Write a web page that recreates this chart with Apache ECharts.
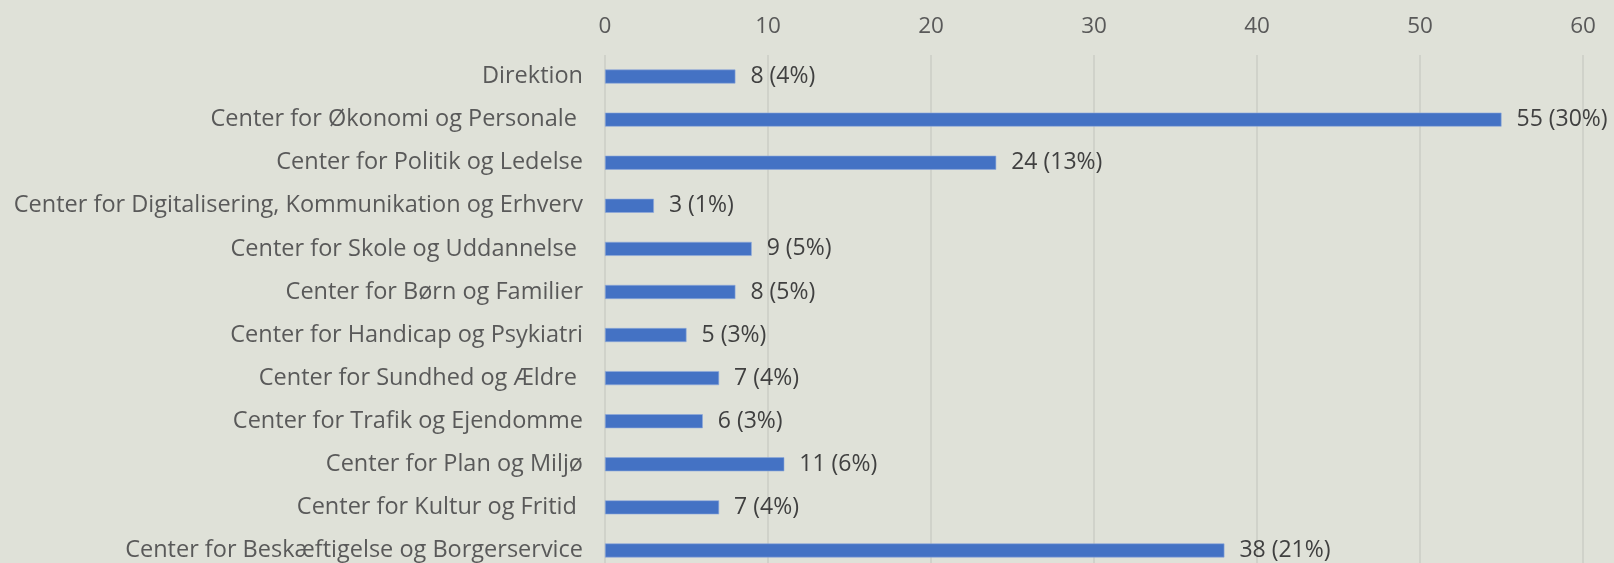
<!DOCTYPE html>
<html>
<head>
<meta charset="utf-8">
<script src="https://cdn.jsdelivr.net/npm/echarts@6/dist/echarts.min.js"></script>
<style>
  html, body { margin: 0; padding: 0; background: #dfe1d8; overflow: hidden; }
  /* the last row runs slightly past the bottom edge of the window */
  #chart { width: 1614px; height: 575px; }
</style>
</head>
<body>
<div id="chart"></div>
<script>
// Departments, top to bottom
const categories = [
  'Direktion',
  'Center for Økonomi og Personale ',
  'Center for Politik og Ledelse',
  'Center for Digitalisering, Kommunikation og Erhverv',
  'Center for Skole og Uddannelse ',
  'Center for Børn og Familier',
  'Center for Handicap og Psykiatri',
  'Center for Sundhed og Ældre ',
  'Center for Trafik og Ejendomme',
  'Center for Plan og Miljø',
  'Center for Kultur og Fritid ',
  'Center for Beskæftigelse og Borgerservice'
];
const counts = [8, 55, 24, 3, 9, 8, 5, 7, 6, 11, 7, 38];
const shares = [4, 30, 13, 1, 5, 5, 3, 4, 3, 6, 4, 21];
const axisTicks = [0, 10, 20, 30, 40, 50, 60];

const FONT = '"Open Sans"';
const chart = echarts.init(document.getElementById('chart'));
chart.setOption({
  backgroundColor: '#dfe1d8',
  animation: false,
  grid: { left: 605, right: 31, top: 55, height: 517, containLabel: false },
  xAxis: {
    type: 'value',
    position: 'top',
    min: axisTicks[0],
    max: axisTicks[axisTicks.length - 1],
    interval: 10,
    axisLine: { show: false },
    axisTick: { show: false },
    axisLabel: { color: '#595959', fontFamily: FONT, fontSize: 22.5, margin: 17 },
    splitLine: { show: true, lineStyle: { color: '#cbcdc6', width: 1.5 } }
  },
  yAxis: {
    type: 'category',
    inverse: true,
    data: categories,
    axisLine: { show: false },
    axisTick: { show: false },
    axisLabel: { color: '#595959', fontFamily: FONT, fontSize: 23.5, margin: 22 }
  },
  series: [{
    type: 'bar',
    data: counts,
    barWidth: 14,
    itemStyle: { color: '#4472c4', borderColor: '#8ea9db', borderWidth: 0.6 },
    label: {
      show: true,
      position: 'right',
      distance: 15,
      color: '#404040',
      fontFamily: FONT,
      fontSize: 23,
      formatter: p => `${p.value} (${shares[p.dataIndex]}%)`
    }
  }]
});
</script>
</body>
</html>
